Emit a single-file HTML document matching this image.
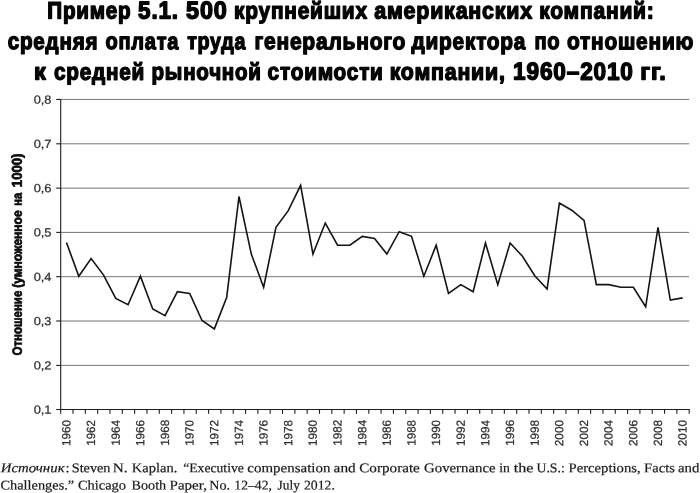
<!DOCTYPE html>
<html lang="ru">
<head>
<meta charset="utf-8">
<title>Пример 5.1</title>
<style>
html,body{margin:0;padding:0;background:#fff;}
body{width:700px;height:493px;overflow:hidden;position:relative;}
svg{position:absolute;left:0;top:0;display:block;}
text{white-space:pre;text-rendering:geometricPrecision;}
.t{font-family:"Liberation Sans",sans-serif;font-weight:bold;font-size:24px;fill:#050505;stroke:#050505;stroke-width:1.4px;stroke-linejoin:round;letter-spacing:0.9px;}
.yl{font-family:"Liberation Sans",sans-serif;font-size:12.6px;fill:#2c2c2c;stroke:#2c2c2c;stroke-width:0.25px;}
.xl{font-family:"Liberation Sans",sans-serif;font-size:12.8px;fill:#2c2c2c;stroke:#2c2c2c;stroke-width:0.25px;}
.ya{font-family:"Liberation Sans",sans-serif;font-weight:bold;font-size:13.9px;fill:#0a0a0a;stroke:#0a0a0a;stroke-width:0.8px;stroke-linejoin:round;}
.f{font-family:"Liberation Serif",serif;font-size:13.8px;fill:#1a1a1a;stroke:#1a1a1a;stroke-width:0.2px;}
.fi{font-family:"Liberation Serif",serif;font-style:italic;font-size:13.8px;fill:#1a1a1a;stroke:#1a1a1a;stroke-width:0.2px;}
</style>
</head>
<body>
<svg width="700" height="493" viewBox="0 0 700 493">
<rect id="bg" x="0" y="0" width="700" height="493" fill="#ffffff"/>
<g id="title">
<text class="t" transform="translate(47.31,18.45) rotate(0.05) scale(0.8601,0.995)">Пример</text>
<text class="t" transform="translate(138.09,18.44) rotate(0.05) scale(0.9337,1.020)">5.1.</text>
<text class="t" transform="translate(186.07,18.44) rotate(0.05) scale(0.9755,1.020)">500</text>
<text class="t" transform="translate(234.01,18.46) rotate(0.05) scale(0.8694,0.980)">крупнейших</text>
<text class="t" transform="translate(374.18,18.46) rotate(0.05) scale(0.8925,0.980)">американских</text>
<text class="t" transform="translate(539.15,18.46) rotate(0.05) scale(0.8766,0.980)">компаний:</text>
<text class="t" transform="translate(7.77,49.11) rotate(0.05) scale(0.8588,0.980)">средняя</text>
<text class="t" transform="translate(105.45,49.11) rotate(0.05) scale(0.8344,0.980)">оплата</text>
<text class="t" transform="translate(187.17,49.11) rotate(0.05) scale(0.8188,0.980)">труда</text>
<text class="t" transform="translate(254.42,49.11) rotate(0.05) scale(0.8749,0.980)">генерального</text>
<text class="t" transform="translate(411.55,49.11) rotate(0.05) scale(0.8673,0.980)">директора</text>
<text class="t" transform="translate(534.47,49.11) rotate(0.05) scale(0.8380,0.980)">по</text>
<text class="t" transform="translate(567.01,49.11) rotate(0.05) scale(0.8694,0.980)">отношению</text>
<text class="t" transform="translate(33.99,79.61) rotate(0.05) scale(0.9792,0.980)">к</text>
<text class="t" transform="translate(53.94,79.61) rotate(0.05) scale(0.8636,0.980)">средней</text>
<text class="t" transform="translate(151.53,79.61) rotate(0.05) scale(0.8561,0.980)">рыночной</text>
<text class="t" transform="translate(267.62,79.61) rotate(0.05) scale(0.8666,0.980)">стоимости</text>
<text class="t" transform="translate(389.63,79.61) rotate(0.05) scale(0.8899,0.980)">компании,</text>
<text class="t" transform="translate(513.08,79.59) rotate(0.05) scale(0.9413,1.020)">1960–2010</text>
<text class="t" transform="translate(640.20,79.61) rotate(0.05) scale(0.9868,0.980)">гг.</text>
</g>
<g id="grid" stroke="#757575" stroke-width="1" fill="none">
<line x1="60.7" y1="365.40" x2="689.2" y2="365.40"/>
<line x1="60.7" y1="321.00" x2="689.2" y2="321.00"/>
<line x1="60.7" y1="276.70" x2="689.2" y2="276.70"/>
<line x1="60.7" y1="232.40" x2="689.2" y2="232.40"/>
<line x1="60.7" y1="188.15" x2="689.2" y2="188.15"/>
<line x1="60.7" y1="143.80" x2="689.2" y2="143.80"/>
<line x1="60.7" y1="99.45" x2="689.2" y2="99.45"/>
</g>
<g id="axes" stroke="#1c1c1c" stroke-width="1.1" fill="none">
<line x1="60.7" y1="99.00" x2="60.7" y2="413.80"/>
<line x1="56.2" y1="409.50" x2="689.7" y2="409.50"/>
<line x1="56.2" y1="365.40" x2="60.7" y2="365.40"/>
<line x1="56.2" y1="321.00" x2="60.7" y2="321.00"/>
<line x1="56.2" y1="276.70" x2="60.7" y2="276.70"/>
<line x1="56.2" y1="232.40" x2="60.7" y2="232.40"/>
<line x1="56.2" y1="188.15" x2="60.7" y2="188.15"/>
<line x1="56.2" y1="143.80" x2="60.7" y2="143.80"/>
<line x1="56.2" y1="99.45" x2="60.7" y2="99.45"/>
<line x1="73.02" y1="409.50" x2="73.02" y2="413.80"/>
<line x1="85.35" y1="409.50" x2="85.35" y2="413.80"/>
<line x1="97.67" y1="409.50" x2="97.67" y2="413.80"/>
<line x1="109.99" y1="409.50" x2="109.99" y2="413.80"/>
<line x1="122.32" y1="409.50" x2="122.32" y2="413.80"/>
<line x1="134.64" y1="409.50" x2="134.64" y2="413.80"/>
<line x1="146.96" y1="409.50" x2="146.96" y2="413.80"/>
<line x1="159.29" y1="409.50" x2="159.29" y2="413.80"/>
<line x1="171.61" y1="409.50" x2="171.61" y2="413.80"/>
<line x1="183.94" y1="409.50" x2="183.94" y2="413.80"/>
<line x1="196.26" y1="409.50" x2="196.26" y2="413.80"/>
<line x1="208.58" y1="409.50" x2="208.58" y2="413.80"/>
<line x1="220.91" y1="409.50" x2="220.91" y2="413.80"/>
<line x1="233.23" y1="409.50" x2="233.23" y2="413.80"/>
<line x1="245.55" y1="409.50" x2="245.55" y2="413.80"/>
<line x1="257.88" y1="409.50" x2="257.88" y2="413.80"/>
<line x1="270.20" y1="409.50" x2="270.20" y2="413.80"/>
<line x1="282.52" y1="409.50" x2="282.52" y2="413.80"/>
<line x1="294.85" y1="409.50" x2="294.85" y2="413.80"/>
<line x1="307.17" y1="409.50" x2="307.17" y2="413.80"/>
<line x1="319.49" y1="409.50" x2="319.49" y2="413.80"/>
<line x1="331.82" y1="409.50" x2="331.82" y2="413.80"/>
<line x1="344.14" y1="409.50" x2="344.14" y2="413.80"/>
<line x1="356.46" y1="409.50" x2="356.46" y2="413.80"/>
<line x1="368.79" y1="409.50" x2="368.79" y2="413.80"/>
<line x1="381.11" y1="409.50" x2="381.11" y2="413.80"/>
<line x1="393.44" y1="409.50" x2="393.44" y2="413.80"/>
<line x1="405.76" y1="409.50" x2="405.76" y2="413.80"/>
<line x1="418.08" y1="409.50" x2="418.08" y2="413.80"/>
<line x1="430.41" y1="409.50" x2="430.41" y2="413.80"/>
<line x1="442.73" y1="409.50" x2="442.73" y2="413.80"/>
<line x1="455.05" y1="409.50" x2="455.05" y2="413.80"/>
<line x1="467.38" y1="409.50" x2="467.38" y2="413.80"/>
<line x1="479.70" y1="409.50" x2="479.70" y2="413.80"/>
<line x1="492.02" y1="409.50" x2="492.02" y2="413.80"/>
<line x1="504.35" y1="409.50" x2="504.35" y2="413.80"/>
<line x1="516.67" y1="409.50" x2="516.67" y2="413.80"/>
<line x1="528.99" y1="409.50" x2="528.99" y2="413.80"/>
<line x1="541.32" y1="409.50" x2="541.32" y2="413.80"/>
<line x1="553.64" y1="409.50" x2="553.64" y2="413.80"/>
<line x1="565.96" y1="409.50" x2="565.96" y2="413.80"/>
<line x1="578.29" y1="409.50" x2="578.29" y2="413.80"/>
<line x1="590.61" y1="409.50" x2="590.61" y2="413.80"/>
<line x1="602.94" y1="409.50" x2="602.94" y2="413.80"/>
<line x1="615.26" y1="409.50" x2="615.26" y2="413.80"/>
<line x1="627.58" y1="409.50" x2="627.58" y2="413.80"/>
<line x1="639.91" y1="409.50" x2="639.91" y2="413.80"/>
<line x1="652.23" y1="409.50" x2="652.23" y2="413.80"/>
<line x1="664.55" y1="409.50" x2="664.55" y2="413.80"/>
<line x1="676.88" y1="409.50" x2="676.88" y2="413.80"/>
<line x1="689.20" y1="409.50" x2="689.20" y2="413.80"/>
</g>
<g id="yticks">
<text class="yl" transform="translate(33.65,413.70) rotate(0.05) scale(1.0186,0.950)">0,1</text>
<text class="yl" transform="translate(33.65,369.60) rotate(0.05) scale(1.0186,0.950)">0,2</text>
<text class="yl" transform="translate(33.65,325.20) rotate(0.05) scale(1.0186,0.950)">0,3</text>
<text class="yl" transform="translate(33.65,280.90) rotate(0.05) scale(1.0186,0.950)">0,4</text>
<text class="yl" transform="translate(33.65,236.60) rotate(0.05) scale(1.0186,0.950)">0,5</text>
<text class="yl" transform="translate(33.65,192.35) rotate(0.05) scale(1.0186,0.950)">0,6</text>
<text class="yl" transform="translate(33.65,148.00) rotate(0.05) scale(1.0186,0.950)">0,7</text>
<text class="yl" transform="translate(33.65,103.65) rotate(0.05) scale(1.0186,0.950)">0,8</text>
</g>
<g id="xlabels">
<text class="xl" transform="translate(70.36,445.95) rotate(-89.95) scale(0.9117,0.930)">1960</text>
<text class="xl" transform="translate(95.01,445.76) rotate(-89.95) scale(0.9014,0.930)">1962</text>
<text class="xl" transform="translate(119.66,445.81) rotate(-89.95) scale(0.9037,0.930)">1964</text>
<text class="xl" transform="translate(144.30,445.95) rotate(-89.95) scale(0.9122,0.930)">1966</text>
<text class="xl" transform="translate(168.95,445.76) rotate(-89.95) scale(0.9100,0.930)">1968</text>
<text class="xl" transform="translate(193.60,445.76) rotate(-89.95) scale(0.9042,0.930)">1970</text>
<text class="xl" transform="translate(218.24,445.91) rotate(-89.95) scale(0.9149,0.930)">1972</text>
<text class="xl" transform="translate(242.89,445.64) rotate(-89.95) scale(0.8983,0.930)">1974</text>
<text class="xl" transform="translate(267.54,445.76) rotate(-89.95) scale(0.9072,0.930)">1976</text>
<text class="xl" transform="translate(292.19,445.89) rotate(-89.95) scale(0.9073,0.930)">1978</text>
<text class="xl" transform="translate(316.83,445.99) rotate(-89.95) scale(0.9178,0.930)">1980</text>
<text class="xl" transform="translate(341.48,445.78) rotate(-89.95) scale(0.9153,0.930)">1982</text>
<text class="xl" transform="translate(366.13,445.95) rotate(-89.95) scale(0.9172,0.930)">1984</text>
<text class="xl" transform="translate(390.77,445.98) rotate(-89.95) scale(0.9146,0.930)">1986</text>
<text class="xl" transform="translate(415.42,445.77) rotate(-89.95) scale(0.9077,0.930)">1988</text>
<text class="xl" transform="translate(440.07,445.75) rotate(-89.95) scale(0.9048,0.930)">1990</text>
<text class="xl" transform="translate(464.71,445.99) rotate(-89.95) scale(0.9168,0.930)">1992</text>
<text class="xl" transform="translate(489.36,445.91) rotate(-89.95) scale(0.9084,0.930)">1994</text>
<text class="xl" transform="translate(514.01,445.75) rotate(-89.95) scale(0.9093,0.930)">1996</text>
<text class="xl" transform="translate(538.66,445.99) rotate(-89.95) scale(0.9153,0.930)">1998</text>
<text class="xl" transform="translate(563.30,446.20) rotate(-89.95) scale(0.9196,0.930)">2000</text>
<text class="xl" transform="translate(587.95,446.13) rotate(-89.95) scale(0.9150,0.930)">2002</text>
<text class="xl" transform="translate(612.60,446.12) rotate(-89.95) scale(0.9157,0.930)">2004</text>
<text class="xl" transform="translate(637.24,446.05) rotate(-89.95) scale(0.9195,0.930)">2006</text>
<text class="xl" transform="translate(661.89,446.08) rotate(-89.95) scale(0.9165,0.930)">2008</text>
<text class="xl" transform="translate(686.54,446.19) rotate(-89.95) scale(0.9198,0.930)">2010</text>
</g>
<g id="ylabel">
<text class="ya" transform="translate(21.70,355.39) rotate(-89.95) scale(0.8242,0.960)">Отношение</text>
<text class="ya" transform="translate(21.70,287.85) rotate(-89.95) scale(0.8658,0.950)">(умноженное</text>
<text class="ya" transform="translate(21.70,205.67) rotate(-89.95) scale(0.7971,0.950)">на</text>
<text class="ya" transform="translate(21.70,187.19) rotate(-89.95) scale(0.9482,1.020)">1000)</text>
</g>
<polyline id="series" points="66.46,242.54 78.79,276.20 91.11,258.49 103.43,274.87 115.76,298.34 128.08,304.76 140.40,276.20 152.73,308.97 165.05,315.61 177.37,291.70 189.70,293.47 202.02,320.49 214.34,328.90 226.67,297.46 238.99,196.49 251.31,254.06 263.64,287.27 275.96,227.26 288.29,210.66 300.61,185.41 312.93,254.06 325.26,223.06 337.58,245.20 349.90,245.20 362.23,236.34 374.55,238.56 386.87,254.06 399.20,231.65 411.52,236.34 423.84,276.20 436.17,245.20 448.49,293.47 460.81,284.61 473.14,291.70 485.46,242.99 497.79,284.61 510.11,242.99 522.43,256.27 534.76,275.76 547.08,289.04 559.40,203.13 571.73,210.21 584.05,220.40 596.37,284.61 608.70,284.61 621.02,287.27 633.34,287.27 645.67,306.76 657.99,227.26 670.31,300.11 682.64,297.90" fill="none" stroke="#141414" stroke-width="1.6" stroke-linejoin="miter" stroke-linecap="butt"/>
<g id="footer">
<text class="fi" transform="translate(0.68,472.20) rotate(0.05) scale(1.0766,0.970)">Источник<tspan font-style="normal" dx="0.9">:</tspan></text>
<text class="f" transform="translate(71.72,472.20) rotate(0.05) scale(1.0309,0.970)">Steven</text>
<text class="f" transform="translate(112.71,472.20) rotate(0.05) scale(1.1020,0.970)">N.</text>
<text class="f" transform="translate(131.73,472.20) rotate(0.05) scale(1.0523,0.970)">Kaplan.</text>
<text class="f" transform="translate(183.24,472.20) rotate(0.05) scale(0.9884,0.970)">“Executive</text>
<text class="f" transform="translate(247.36,472.20) rotate(0.05) scale(1.0834,0.970)">compensation</text>
<text class="f" transform="translate(333.58,472.20) rotate(0.05) scale(1.1098,0.970)">and</text>
<text class="f" transform="translate(359.27,472.20) rotate(0.05) scale(1.0980,0.970)">Corporate</text>
<text class="f" transform="translate(424.03,472.20) rotate(0.05) scale(1.0738,0.970)">Governance</text>
<text class="f" transform="translate(499.24,472.20) rotate(0.05) scale(0.9937,0.970)">in</text>
<text class="f" transform="translate(513.64,472.20) rotate(0.05) scale(1.1705,0.970)">the</text>
<text class="f" transform="translate(536.47,472.20) rotate(0.05) scale(0.9962,0.970)">U.S.:</text>
<text class="f" transform="translate(568.50,472.20) rotate(0.05) scale(1.0632,0.970)">Perceptions,</text>
<text class="f" transform="translate(644.09,472.20) rotate(0.05) scale(1.0567,0.970)">Facts</text>
<text class="f" transform="translate(677.88,472.20) rotate(0.05) scale(1.0805,0.970)">and</text>
<text class="f" transform="translate(0.51,489.40) rotate(0.05) scale(1.0392,0.970)">Challenges.”</text>
<text class="f" transform="translate(77.94,489.40) rotate(0.05) scale(1.0455,0.970)">Chicago</text>
<text class="f" transform="translate(131.53,489.40) rotate(0.05) scale(1.0270,0.970)">Booth</text>
<text class="f" transform="translate(169.57,489.40) rotate(0.05) scale(1.0886,0.970)">Paper,</text>
<text class="f" transform="translate(209.32,489.40) rotate(0.05) scale(1.0237,0.970)">No.</text>
<text class="f" transform="translate(234.34,489.40) rotate(0.05) scale(0.9922,0.970)">12–42,</text>
<text class="f" transform="translate(277.61,489.40) rotate(0.05) scale(0.9706,0.970)">July</text>
<text class="f" transform="translate(303.89,489.40) rotate(0.05) scale(0.9983,0.970)">2012.</text>
</g>
</svg>
</body>
</html>
